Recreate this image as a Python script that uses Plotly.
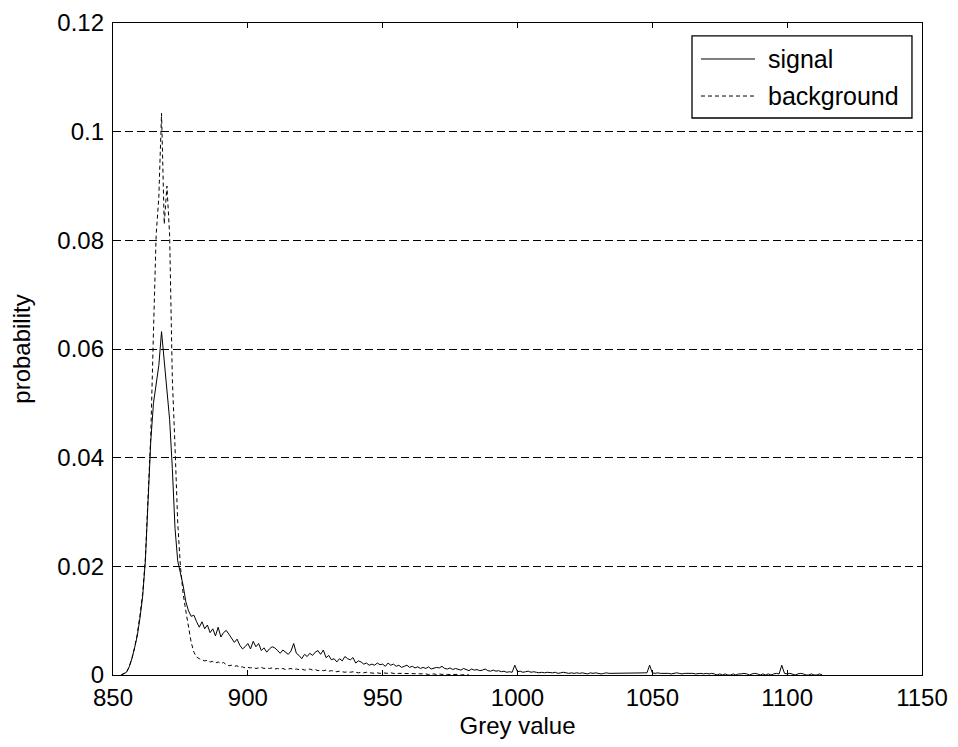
import plotly.graph_objects as go

# Grey-value histogram bins (integer grey levels)
signal_start = 853
signal_prob = [
    # 853-862
    0.0000, 0.0002, 0.0005, 0.0015, 0.0030, 0.0050, 0.0072, 0.0105, 0.0145, 0.0210,
    # 863-872
    0.0310, 0.0430, 0.0500, 0.0540, 0.0570, 0.0632, 0.0575, 0.0525, 0.0470, 0.0380,
    # 873-882
    0.0270, 0.0210, 0.0188, 0.0165, 0.0135, 0.0118, 0.0108, 0.0110, 0.0098, 0.0088,
    # 883-892
    0.0098, 0.0085, 0.0092, 0.0078, 0.0085, 0.0072, 0.0088, 0.0070, 0.0078, 0.0082,
    # 893-902
    0.0075, 0.0068, 0.0060, 0.0066, 0.0055, 0.0048, 0.0052, 0.0058, 0.0048, 0.0062,
    # 903-912
    0.0052, 0.0058, 0.0045, 0.0050, 0.0042, 0.0048, 0.0052, 0.0050, 0.0045, 0.0040,
    # 913-922
    0.0046, 0.0042, 0.0038, 0.0044, 0.0058, 0.0040, 0.0036, 0.0030, 0.0038, 0.0034,
    # 923-932
    0.0040, 0.0036, 0.0042, 0.0045, 0.0038, 0.0046, 0.0032, 0.0036, 0.0028, 0.0030,
    # 933-942
    0.0024, 0.0030, 0.0026, 0.0034, 0.0030, 0.0028, 0.0032, 0.0022, 0.0026, 0.0024,
    # 943-952
    0.0020, 0.0022, 0.0018, 0.0020, 0.0018, 0.0022, 0.0019, 0.0020, 0.0016, 0.0022,
    # 953-962
    0.0018, 0.0020, 0.0016, 0.0018, 0.0014, 0.0016, 0.0018, 0.0014, 0.0016, 0.0013,
    # 963-972
    0.0015, 0.0012, 0.0014, 0.0012, 0.0015, 0.0011, 0.0013, 0.0014, 0.0013, 0.0016,
    # 973-982
    0.0012, 0.0011, 0.0013, 0.0010, 0.0012, 0.0011, 0.0009, 0.0012, 0.0010, 0.0008,
    # 983-992
    0.0011, 0.0009, 0.0010, 0.0008, 0.0009, 0.0011, 0.0008, 0.0007, 0.0009, 0.0007,
    # 993-1002
    0.0008, 0.0006, 0.0007, 0.0005, 0.0006, 0.0005, 0.0018, 0.0006, 0.0007, 0.0005,
    # 1003-1012
    0.0006, 0.0007, 0.0005, 0.0006, 0.0005, 0.0004, 0.0005, 0.0004, 0.0005, 0.0004,
    # 1013-1022
    0.0004, 0.0005, 0.0003, 0.0004, 0.0005, 0.0004, 0.0003, 0.0004, 0.0003, 0.0004,
    # 1023-1032
    0.0003, 0.0004, 0.0003, 0.0002, 0.0004, 0.0003, 0.0004, 0.0003, 0.0002, 0.0003,
    # 1033-1042
    0.0004, 0.0003, 0.0003, 0.0004, 0.0003, 0.0003, 0.0004, 0.0003, 0.0003, 0.0004,
    # 1043-1052
    0.0003, 0.0003, 0.0004, 0.0003, 0.0003, 0.0004, 0.0018, 0.0004, 0.0003, 0.0004,
    # 1053-1062
    0.0003, 0.0003, 0.0004, 0.0003, 0.0002, 0.0003, 0.0004, 0.0003, 0.0002, 0.0003,
    # 1063-1072
    0.0003, 0.0004, 0.0003, 0.0002, 0.0003, 0.0003, 0.0002, 0.0003, 0.0002, 0.0003,
    # 1073-1082
    0.0002, 0.0000, 0.0002, 0.0000, 0.0002, 0.0000, 0.0000, 0.0002, 0.0000, 0.0002,
    # 1083-1092
    0.0002, 0.0003, 0.0002, 0.0000, 0.0002, 0.0003, 0.0002, 0.0000, 0.0002, 0.0000,
    # 1093-1102
    0.0002, 0.0000, 0.0002, 0.0003, 0.0002, 0.0018, 0.0003, 0.0002, 0.0003, 0.0002,
    # 1103-1113
    0.0000, 0.0002, 0.0003, 0.0002, 0.0000, 0.0000, 0.0002, 0.0000, 0.0000, 0.0002,
    0.0000,
]

background_start = 853
background_prob = [
    # 853-862
    0.0000, 0.0002, 0.0005, 0.0015, 0.0030, 0.0050, 0.0075, 0.0110, 0.0150, 0.0215,
    # 863-872
    0.0320, 0.0440, 0.0630, 0.0810, 0.0880, 0.1034, 0.0830, 0.0900, 0.0810, 0.0545,
    # 873-882
    0.0420, 0.0280, 0.0200, 0.0150, 0.0118, 0.0085, 0.0060, 0.0042, 0.0033, 0.0030,
    # 883-892
    0.0028, 0.0026, 0.0027, 0.0024, 0.0025, 0.0022, 0.0024, 0.0021, 0.0023, 0.0019,
    # 893-902
    0.0017, 0.0018, 0.0016, 0.0017, 0.0014, 0.0015, 0.0013, 0.0014, 0.0013, 0.0014,
    # 903-912
    0.0012, 0.0013, 0.0014, 0.0012, 0.0013, 0.0012, 0.0013, 0.0011, 0.0012, 0.0011,
    # 913-922
    0.0012, 0.0010, 0.0011, 0.0012, 0.0010, 0.0011, 0.0010, 0.0011, 0.0009, 0.0010,
    # 923-932
    0.0011, 0.0009, 0.0010, 0.0008, 0.0009, 0.0008, 0.0009, 0.0007, 0.0008, 0.0007,
    # 933-942
    0.0006, 0.0007, 0.0006, 0.0005, 0.0006, 0.0005, 0.0006, 0.0005, 0.0004, 0.0005,
    # 943-952
    0.0004, 0.0005, 0.0004, 0.0004, 0.0003, 0.0004, 0.0003, 0.0004, 0.0003, 0.0003,
    # 953-962
    0.0004, 0.0003, 0.0002, 0.0003, 0.0003, 0.0002, 0.0003, 0.0002, 0.0003, 0.0002,
    # 963-972
    0.0002, 0.0003, 0.0002, 0.0002, 0.0001, 0.0002, 0.0002, 0.0001, 0.0002, 0.0001,
    # 973-982
    0.0002, 0.0001, 0.0001, 0.0002, 0.0001, 0.0001, 0.0000, 0.0001, 0.0001, 0.0000,
]

series_names = ["signal", "background"]
x_ticks = [850, 900, 950, 1000, 1050, 1100, 1150]
y_ticks = [0, 0.02, 0.04, 0.06, 0.08, 0.1, 0.12]
y_tick_labels = ["0", "0.02", "0.04", "0.06", "0.08", "0.1", "0.12"]

signal_x = [signal_start + i for i in range(len(signal_prob))]
background_x = [background_start + i for i in range(len(background_prob))]

FONT = "Liberation Sans, Arial, sans-serif"
FS = 24
LEG_FS = 25
BG_DASH = "4px,3px"

fig = go.Figure()
fig.add_trace(go.Scatter(
    x=signal_x, y=signal_prob, mode="lines", name=series_names[0],
    line=dict(color="black", width=1), showlegend=False,
))
fig.add_trace(go.Scatter(
    x=background_x, y=background_prob, mode="lines", name=series_names[1],
    line=dict(color="black", width=1, dash=BG_DASH), showlegend=False,
))

axis_common = dict(
    showline=True, linecolor="black", linewidth=1.3, mirror="ticks",
    ticks="inside", ticklen=5, tickcolor="black", tickwidth=1,
    zeroline=False, automargin=False,
    tickfont=dict(family=FONT, size=FS, color="black"),
)

fig.update_xaxes(
    range=[850, 1150], tickvals=x_ticks, showgrid=False, ticklabelstandoff=1,
    title=dict(text="Grey value", font=dict(family=FONT, size=FS, color="black"), standoff=18),
    **axis_common,
)
fig.update_yaxes(
    range=[0, 0.12], tickvals=y_ticks, ticktext=y_tick_labels, ticklabelstandoff=3,
    showgrid=True, gridcolor="black", gridwidth=1, griddash="8px,4px",
    title=dict(text="probability", font=dict(family=FONT, size=FS, color="black"), standoff=20),
    **axis_common,
)

# Legend box drawn in paper coordinates (MATLAB-style legend)
box = dict(x0=0.7157, x1=0.9876, y0=0.8543, y1=0.9801)
rows_y = [0.9448, 0.8880]
line_x = (0.7268, 0.7936)
text_x = 0.8072
shapes = [dict(type="rect", xref="paper", yref="paper", layer="above",
               x0=box["x0"], x1=box["x1"], y0=box["y0"], y1=box["y1"],
               line=dict(color="black", width=1.3), fillcolor="white")]
dashes = ["solid", BG_DASH]
annotations = []
for name, yy, dsh in zip(series_names, rows_y, dashes):
    shapes.append(dict(type="line", xref="paper", yref="paper", layer="above",
                       x0=line_x[0], x1=line_x[1], y0=yy, y1=yy,
                       line=dict(color="black", width=1, dash=dsh)))
    annotations.append(dict(xref="paper", yref="paper", x=text_x, y=yy,
                            xanchor="left", yanchor="middle", showarrow=False,
                            text=name, font=dict(family=FONT, size=LEG_FS, color="black")))

fig.update_layout(
    width=942, height=731,
    margin=dict(l=105, r=28, t=15, b=64, autoexpand=False),
    plot_bgcolor="white", paper_bgcolor="white",
    font=dict(family=FONT, size=FS, color="black"),
    showlegend=False,
    shapes=shapes, annotations=annotations,
)

fig.write_html("out.html")
